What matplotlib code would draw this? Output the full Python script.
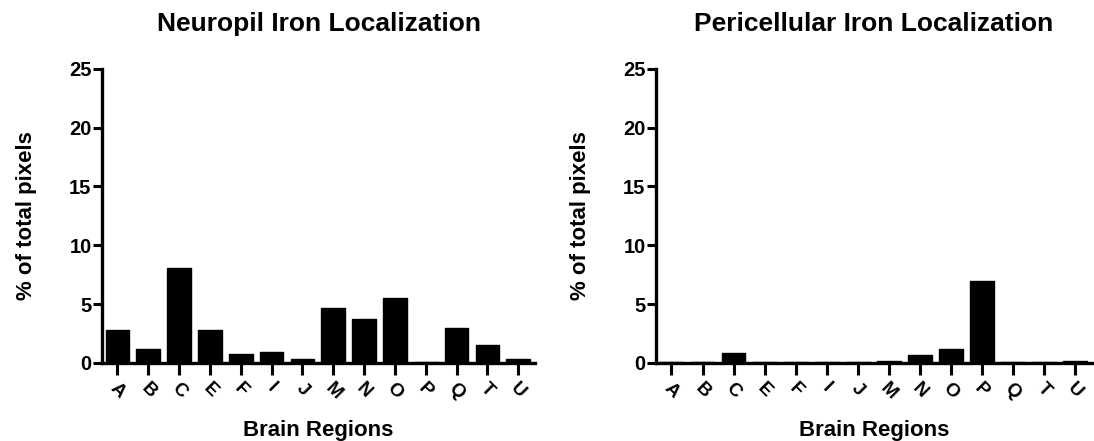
import matplotlib
matplotlib.use("Agg")
from matplotlib import pyplot as plt

regions = ['A', 'B', 'C', 'E', 'F', 'I', 'J', 'M', 'N', 'O', 'P', 'Q', 'T', 'U']
neuropil = [2.8, 1.2, 8.1, 2.8, 0.8, 0.9, 0.3, 4.7, 3.7, 5.5, 0.1, 3.0, 1.5, 0.3]
pericellular = [0.05, 0.05, 0.85, 0.05, 0.05, 0.05, 0.05, 0.2, 0.65, 1.2, 6.95, 0.05, 0.1, 0.15]

plt.rcParams['font.family'] = 'Liberation Sans'
plt.rcParams['font.weight'] = 'bold'

fig = plt.figure(figsize=(10.94, 4.41), dpi=100)
ax1 = fig.add_axes([0.0932, 0.177, 0.396, 0.667])
ax2 = fig.add_axes([0.5996, 0.177, 0.3985, 0.667])

panels = [(ax1, neuropil, 'Neuropil Iron Localization'),
          (ax2, pericellular, 'Pericellular Iron Localization')]

for ax, vals, title in panels:
    x = range(len(regions))
    ax.bar(x, vals, width=0.77, color='black', edgecolor='black',
           linewidth=1, joinstyle='round')
    ax.set_xlim(-0.5, len(regions) - 0.45)
    ax.set_ylim(0, 25)
    ax.set_yticks([0, 5, 10, 15, 20, 25])
    ax.set_xticks(list(x))
    ax.set_xticklabels(regions, rotation=-45, ha='center', fontsize=13.5,
                       fontweight='bold')
    ax.tick_params(axis='y', length=6.5, width=2.2, labelsize=14.5, pad=1)
    ax.tick_params(axis='x', length=8.5, width=2.2, pad=4)
    for lbl in ax.get_yticklabels():
        lbl.set_fontweight('bold')
    for s in ['top', 'right']:
        ax.spines[s].set_visible(False)
    for s in ['left', 'bottom']:
        ax.spines[s].set_linewidth(2.4)

    pos = ax.get_position()
    cx = (pos.x0 + pos.x1) / 2
    fig.text(cx, 0.93, title, ha='center', va='baseline', fontsize=19,
             fontweight='bold')
    fig.text(cx, 0.012, 'Brain Regions', ha='center', va='baseline', fontsize=16,
             fontweight='bold')
    fig.text(pos.x0 - 0.069, (pos.y0 + pos.y1) / 2, '% of total pixels',
             rotation=90, ha='center', va='center', fontsize=16,
             fontweight='bold')

plt.savefig('out.png', dpi=100)
